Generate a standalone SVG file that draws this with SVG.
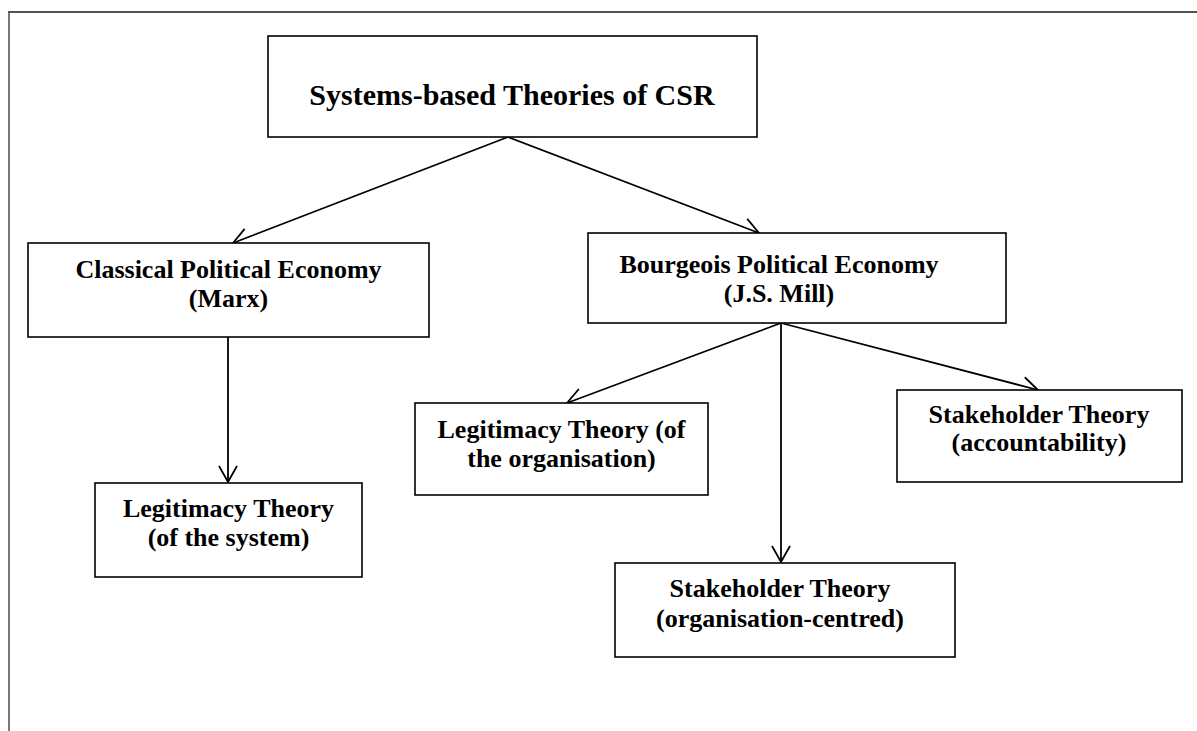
<svg xmlns="http://www.w3.org/2000/svg" width="1197" height="731" viewBox="0 0 1197 731">
  <style>
    .box { fill: #ffffff; stroke: #000000; stroke-width: 1.6; }
    .lbl { font-family: "Liberation Serif", "Times New Roman", serif; font-weight: bold; font-size: 26px; fill: #000000; text-anchor: middle; }
    .title { font-size: 30px; }
    .edge { fill: none; stroke: #000000; stroke-width: 1.8; marker-end: url(#vhead); }
    .frame-top { fill: none; stroke: #1a1a1a; stroke-width: 1.6; }
    .frame-left { fill: none; stroke: #555555; stroke-width: 1.6; }
  </style>
  <defs>
    <!-- open V arrowhead used by every connector -->
    <marker id="vhead" viewBox="0 0 20 22" refX="18" refY="11" markerWidth="20" markerHeight="22" markerUnits="userSpaceOnUse" orient="auto">
      <path d="M2,2 L18,11 L2,20" fill="none" stroke="#000000" stroke-width="1.8"/>
    </marker>
  </defs>

  <!-- page frame -->
  <line class="frame-top" x1="8" y1="12" x2="1197" y2="12"/>
  <line class="frame-left" x1="9" y1="12" x2="9" y2="731"/>

  <g id="connectors">
    <line class="edge" x1="508" y1="137" x2="233" y2="243"/>
    <line class="edge" x1="508" y1="137" x2="759" y2="233"/>
    <line class="edge" x1="228" y1="337" x2="228" y2="482"/>
    <line class="edge" x1="781" y1="323" x2="567" y2="403"/>
    <line class="edge" x1="781" y1="323" x2="781" y2="562"/>
    <line class="edge" x1="781" y1="323" x2="1038" y2="390"/>
  </g>

  <g id="systems-based">
    <rect class="box" x="268" y="36" width="489" height="101"/>
    <text class="lbl title" x="512" y="105">Systems-based Theories of CSR</text>
  </g>

  <g id="classical">
    <rect class="box" x="28" y="243" width="401" height="94"/>
    <text class="lbl" x="228.5" y="278">Classical Political Economy</text>
    <text class="lbl" x="228.5" y="307">(Marx)</text>
  </g>

  <g id="bourgeois">
    <rect class="box" x="588" y="233" width="418" height="90"/>
    <text class="lbl" x="779" y="273">Bourgeois Political Economy</text>
    <text class="lbl" x="779" y="302">(J.S. Mill)</text>
  </g>

  <g id="legitimacy-system">
    <rect class="box" x="95" y="483" width="267" height="94"/>
    <text class="lbl" x="228.5" y="517">Legitimacy Theory</text>
    <text class="lbl" x="228.5" y="546">(of the system)</text>
  </g>

  <g id="legitimacy-organisation">
    <rect class="box" x="415" y="403" width="293" height="92"/>
    <text class="lbl" x="561.5" y="438">Legitimacy Theory (of</text>
    <text class="lbl" x="561.5" y="467">the organisation)</text>
  </g>

  <g id="stakeholder-accountability">
    <rect class="box" x="897" y="390" width="285" height="92"/>
    <text class="lbl" x="1039" y="423">Stakeholder Theory</text>
    <text class="lbl" x="1039" y="451">(accountability)</text>
  </g>

  <g id="stakeholder-organisation">
    <rect class="box" x="615" y="563" width="340" height="94"/>
    <text class="lbl" x="780" y="597">Stakeholder Theory</text>
    <text class="lbl" x="780" y="627">(organisation-centred)</text>
  </g>
</svg>
